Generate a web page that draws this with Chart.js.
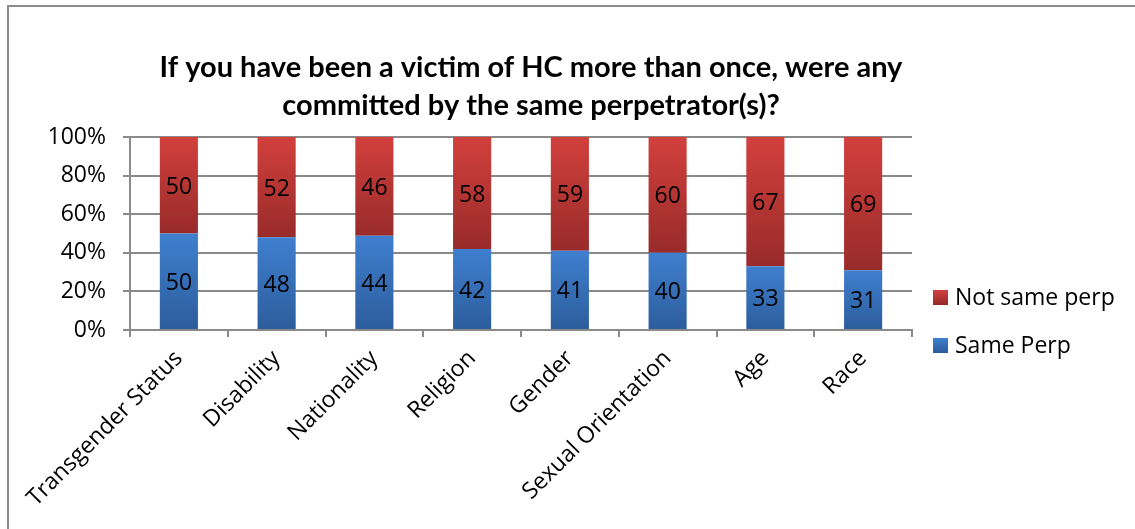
<!DOCTYPE html>
<html>
<head>
<meta charset="utf-8">
<script src="https://cdn.jsdelivr.net/npm/chart.js@4.4.1/dist/chart.umd.min.js"></script>
<style>
  html, body { margin: 0; padding: 0; background: #fff; }
  #wrap { width: 1135px; height: 529px; position: relative; }
</style>
</head>
<body>
<div id="wrap"><canvas id="perpChart"></canvas></div>
<script>
const categories = ["Transgender Status", "Disability", "Nationality", "Religion", "Gender", "Sexual Orientation", "Age", "Race"];
const samePerp = [50, 48, 44, 42, 41, 40, 33, 31];
const notSamePerp = [50, 52, 46, 58, 59, 60, 67, 69];
const yTicks = [0, 20, 40, 60, 80, 100];

// 100% stacked: each bar is scaled to its own total
const sameShare = samePerp.map((v, i) => v / (v + notSamePerp[i]) * 100);
const notSameShare = notSamePerp.map((v, i) => v / (v + samePerp[i]) * 100);

const FONT = "'Open Sans', sans-serif";

function barGradient(ctx, top, bottom, light, dark) {
  const chart = ctx.chart;
  if (!chart.chartArea || !chart.scales.y) return light;
  const y = chart.scales.y;
  const i = ctx.dataIndex;
  if (i === undefined) return light;
  const y0 = y.getPixelForValue(top(i));
  const y1 = y.getPixelForValue(bottom(i));
  const g = chart.ctx.createLinearGradient(0, y0, 0, y1);
  g.addColorStop(0, light);
  g.addColorStop(1, dark);
  return g;
}

const blueFill = (ctx) => barGradient(ctx, (i) => sameShare[i], () => 0, "#3f7fcf", "#2c5d9c");
const redFill = (ctx) => barGradient(ctx, () => 100, (i) => sameShare[i], "#d2403c", "#982b2a");

const decorPlugin = {
  id: "decor",
  beforeDraw(chart) {
    const c = chart.ctx;
    c.save();
    c.strokeStyle = "#8a8a8a";
    c.lineWidth = 2;
    c.beginPath();
    c.moveTo(8, 529);
    c.lineTo(8, 6);
    c.lineTo(1135, 6);
    c.stroke();
    c.restore();
  },
  afterDatasetsDraw(chart) {
    const c = chart.ctx;
    c.save();
    c.fillStyle = "#000";
    c.font = "23px " + FONT;
    c.textAlign = "center";
    c.textBaseline = "middle";
    const raw = [samePerp, notSamePerp];
    chart.data.datasets.forEach((ds, d) => {
      chart.getDatasetMeta(d).data.forEach((bar, i) => {
        c.fillText(String(raw[d][i]), bar.x, (bar.y + bar.base) / 2 + 2);
      });
    });
    c.restore();
  },
  afterDraw(chart) {
    const c = chart.ctx;
    const area = chart.chartArea;
    c.save();
    // title
    c.fillStyle = "#000";
    c.font = "bold 29px Lato, sans-serif";
    c.textAlign = "center";
    c.textBaseline = "middle";
    c.fillText("If you have been a victim of HC more than once, were any", 531, 68);
    c.fillText("committed by the same perpetrator(s)?", 531, 106);
    // legend
    const items = [
      { label: "Not same perp", light: "#d2403c", dark: "#982b2a", y: 297 },
      { label: "Same Perp", light: "#3f7fcf", dark: "#2c5d9c", y: 345 }
    ];
    c.font = "23px " + FONT;
    c.textAlign = "left";
    items.forEach((it) => {
      const x = area.right + 21;
      const g = c.createLinearGradient(0, it.y - 7, 0, it.y + 7);
      g.addColorStop(0, it.light);
      g.addColorStop(1, it.dark);
      c.fillStyle = g;
      c.fillRect(x, it.y - 7, 15, 15);
      c.fillStyle = "#000";
      c.fillText(it.label, x + 22, it.y + 1);
    });
    c.restore();
  }
};

new Chart(document.getElementById("perpChart"), {
  type: "bar",
  data: {
    labels: categories,
    datasets: [
      {
        label: "Same Perp",
        data: sameShare,
        backgroundColor: blueFill,
        barPercentage: 0.39,
        categoryPercentage: 1
      },
      {
        label: "Not same perp",
        data: notSameShare,
        backgroundColor: redFill,
        barPercentage: 0.39,
        categoryPercentage: 1
      }
    ]
  },
  options: {
    responsive: true,
    maintainAspectRatio: false,
    animation: false,
    layout: {
      padding: { left: 50, top: 137, right: 223, bottom: 0 }
    },
    scales: {
      x: {
        stacked: true,
        grid: {
          display: true,
          drawOnChartArea: false,
          drawTicks: true,
          tickLength: 7,
          color: "#8a8a8a",
          lineWidth: 2,
          offset: true
        },
        border: { display: true, color: "#8a8a8a", width: 2 },
        ticks: {
          color: "#000",
          font: { family: FONT, size: 23 },
          minRotation: 45,
          maxRotation: 45,
          autoSkip: false,
          padding: 8
        },
        afterFit(scale) { scale.height = 199; }
      },
      y: {
        stacked: true,
        min: 0,
        max: 100,
        afterBuildTicks(scale) { scale.ticks = yTicks.map((v) => ({ value: v })); },
        grid: {
          color: "#8a8a8a",
          lineWidth: 2,
          tickLength: 7
        },
        border: { display: true, color: "#8a8a8a", width: 2 },
        ticks: {
          color: "#000",
          font: { family: FONT, size: 23 },
          padding: 17,
          callback: (v) => v + "%"
        },
        afterFit(scale) { scale.width = 80; }
      }
    },
    plugins: {
      legend: { display: false },
      title: { display: false },
      tooltip: { enabled: false }
    }
  },
  plugins: [decorPlugin]
});
</script>
</body>
</html>
